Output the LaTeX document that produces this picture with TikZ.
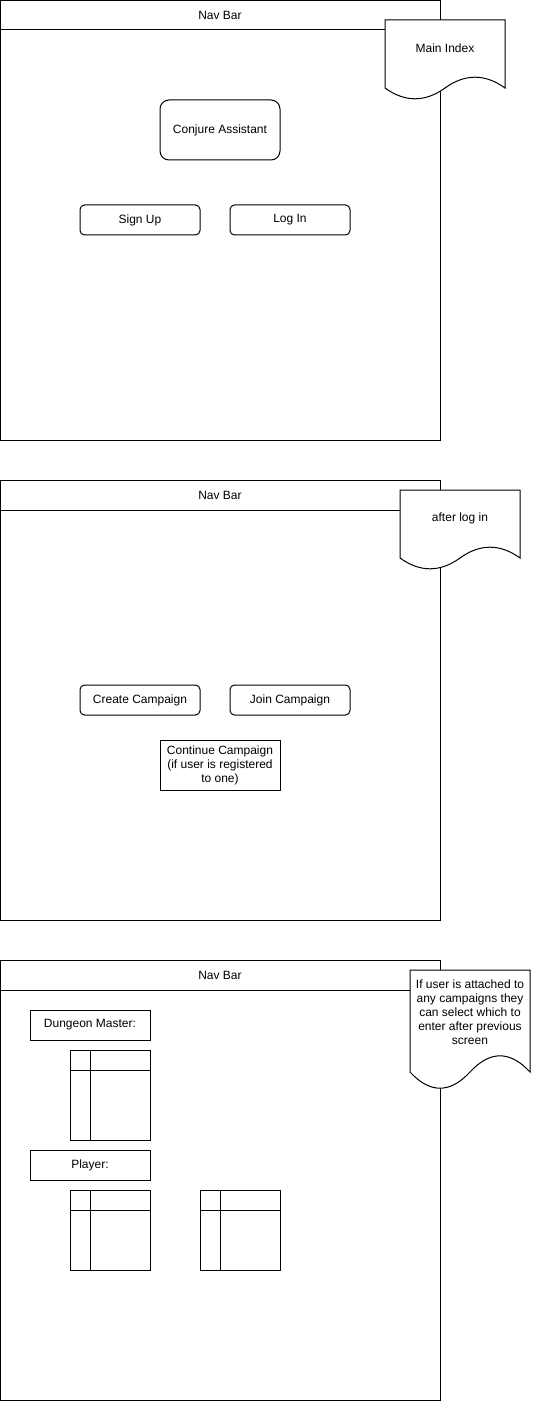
\documentclass[tikz,border=0pt]{standalone}
\usepackage{fontspec}
\setmainfont{Liberation Sans}
\usepackage{tikz}
\usetikzlibrary{shapes.geometric, arrows}

\tikzset{
  uitext/.style={font=\fontsize{9pt}{10.5pt}\selectfont, inner sep=0.75pt, align=center},
  btn/.style={uitext, draw, rounded corners=3.4pt, minimum width=90pt, minimum height=22.5pt},
  labelbox/.style={uitext, draw, minimum width=90pt, minimum height=22.5pt}
}

\begin{document}
\begin{tikzpicture}[x=0.75pt,y=0.75pt,yscale=-1,line width=0.75pt]
\useasboundingbox (0,0) rectangle (532,1408);

% Screen 1
\draw   (0.5,0.5) -- (440,0.5) -- (440,440) -- (0.5,440) -- cycle ;
\draw   (0.5,30) -- (440,30) ;
\node [uitext] (navA) at (220,15) {Nav Bar};
\node [btn, rounded corners=6.75pt, minimum height=45pt] (conjure) at (220,130) {Conjure Assistant};
\node [btn] (signup) at (140,220) {Sign Up};
\node [btn] (login) at (290,220) {Log In};
% Page note
\draw  [fill=white] (385,20) -- (505,20) -- (505,88) .. controls (485,73.6) and (465,73.6) .. (445,88) .. controls (425,102.4) and (405,102.4) .. (385,88) -- cycle ;
\node [uitext] (noteA) at (445,48) {Main Index};

% Screen 2
\draw   (0.5,480) -- (440,480) -- (440,920) -- (0.5,920) -- cycle ;
\draw   (0.5,510) -- (440,510) ;
\node [uitext] (navB) at (220,495) {Nav Bar};
\node [btn] (create) at (140,700) {Create Campaign};
\node [btn] (join) at (290,700) {Join Campaign};
\node [labelbox, minimum height=37.5pt] (continue) at (220,765) {Continue Campaign\\(if user is registered\\to one)};
% Page note
\draw  [fill=white] (400,490) -- (520,490) -- (520,558) .. controls (500,543.6) and (480,543.6) .. (460,558) .. controls (440,572.4) and (420,572.4) .. (400,558) -- cycle ;
\node [uitext] (noteB) at (460,518) {after log in};

% Screen 3
\draw   (0.5,960) -- (440,960) -- (440,1400) -- (0.5,1400) -- cycle ;
\draw   (0.5,990) -- (440,990) ;
\node [uitext] (navC) at (220,975) {Nav Bar};
\node [labelbox] (dm) at (90,1025) {Dungeon Master:};
\node [labelbox] (player) at (90,1165) {Player:};
% Tables
\draw   (70,1050) -- (150,1050) -- (150,1140) -- (70,1140) -- cycle ;
\draw   (90,1050) -- (90,1140) ;
\draw   (70,1070) -- (150,1070) ;
\draw   (70,1190) -- (150,1190) -- (150,1270) -- (70,1270) -- cycle ;
\draw   (90,1190) -- (90,1270) ;
\draw   (70,1210) -- (150,1210) ;
\draw   (200,1190) -- (280,1190) -- (280,1270) -- (200,1270) -- cycle ;
\draw   (220,1190) -- (220,1270) ;
\draw   (200,1210) -- (280,1210) ;
% Page note
\draw  [fill=white] (410,970) -- (530,970) -- (530,1072) .. controls (510,1050.4) and (490,1050.4) .. (470,1072) .. controls (450,1093.6) and (430,1093.6) .. (410,1072) -- cycle ;
\node [uitext] (noteC) at (470,1012) {If user is attached to\\any campaigns they\\can select which to\\enter after previous\\screen};

\end{tikzpicture}
\end{document}
